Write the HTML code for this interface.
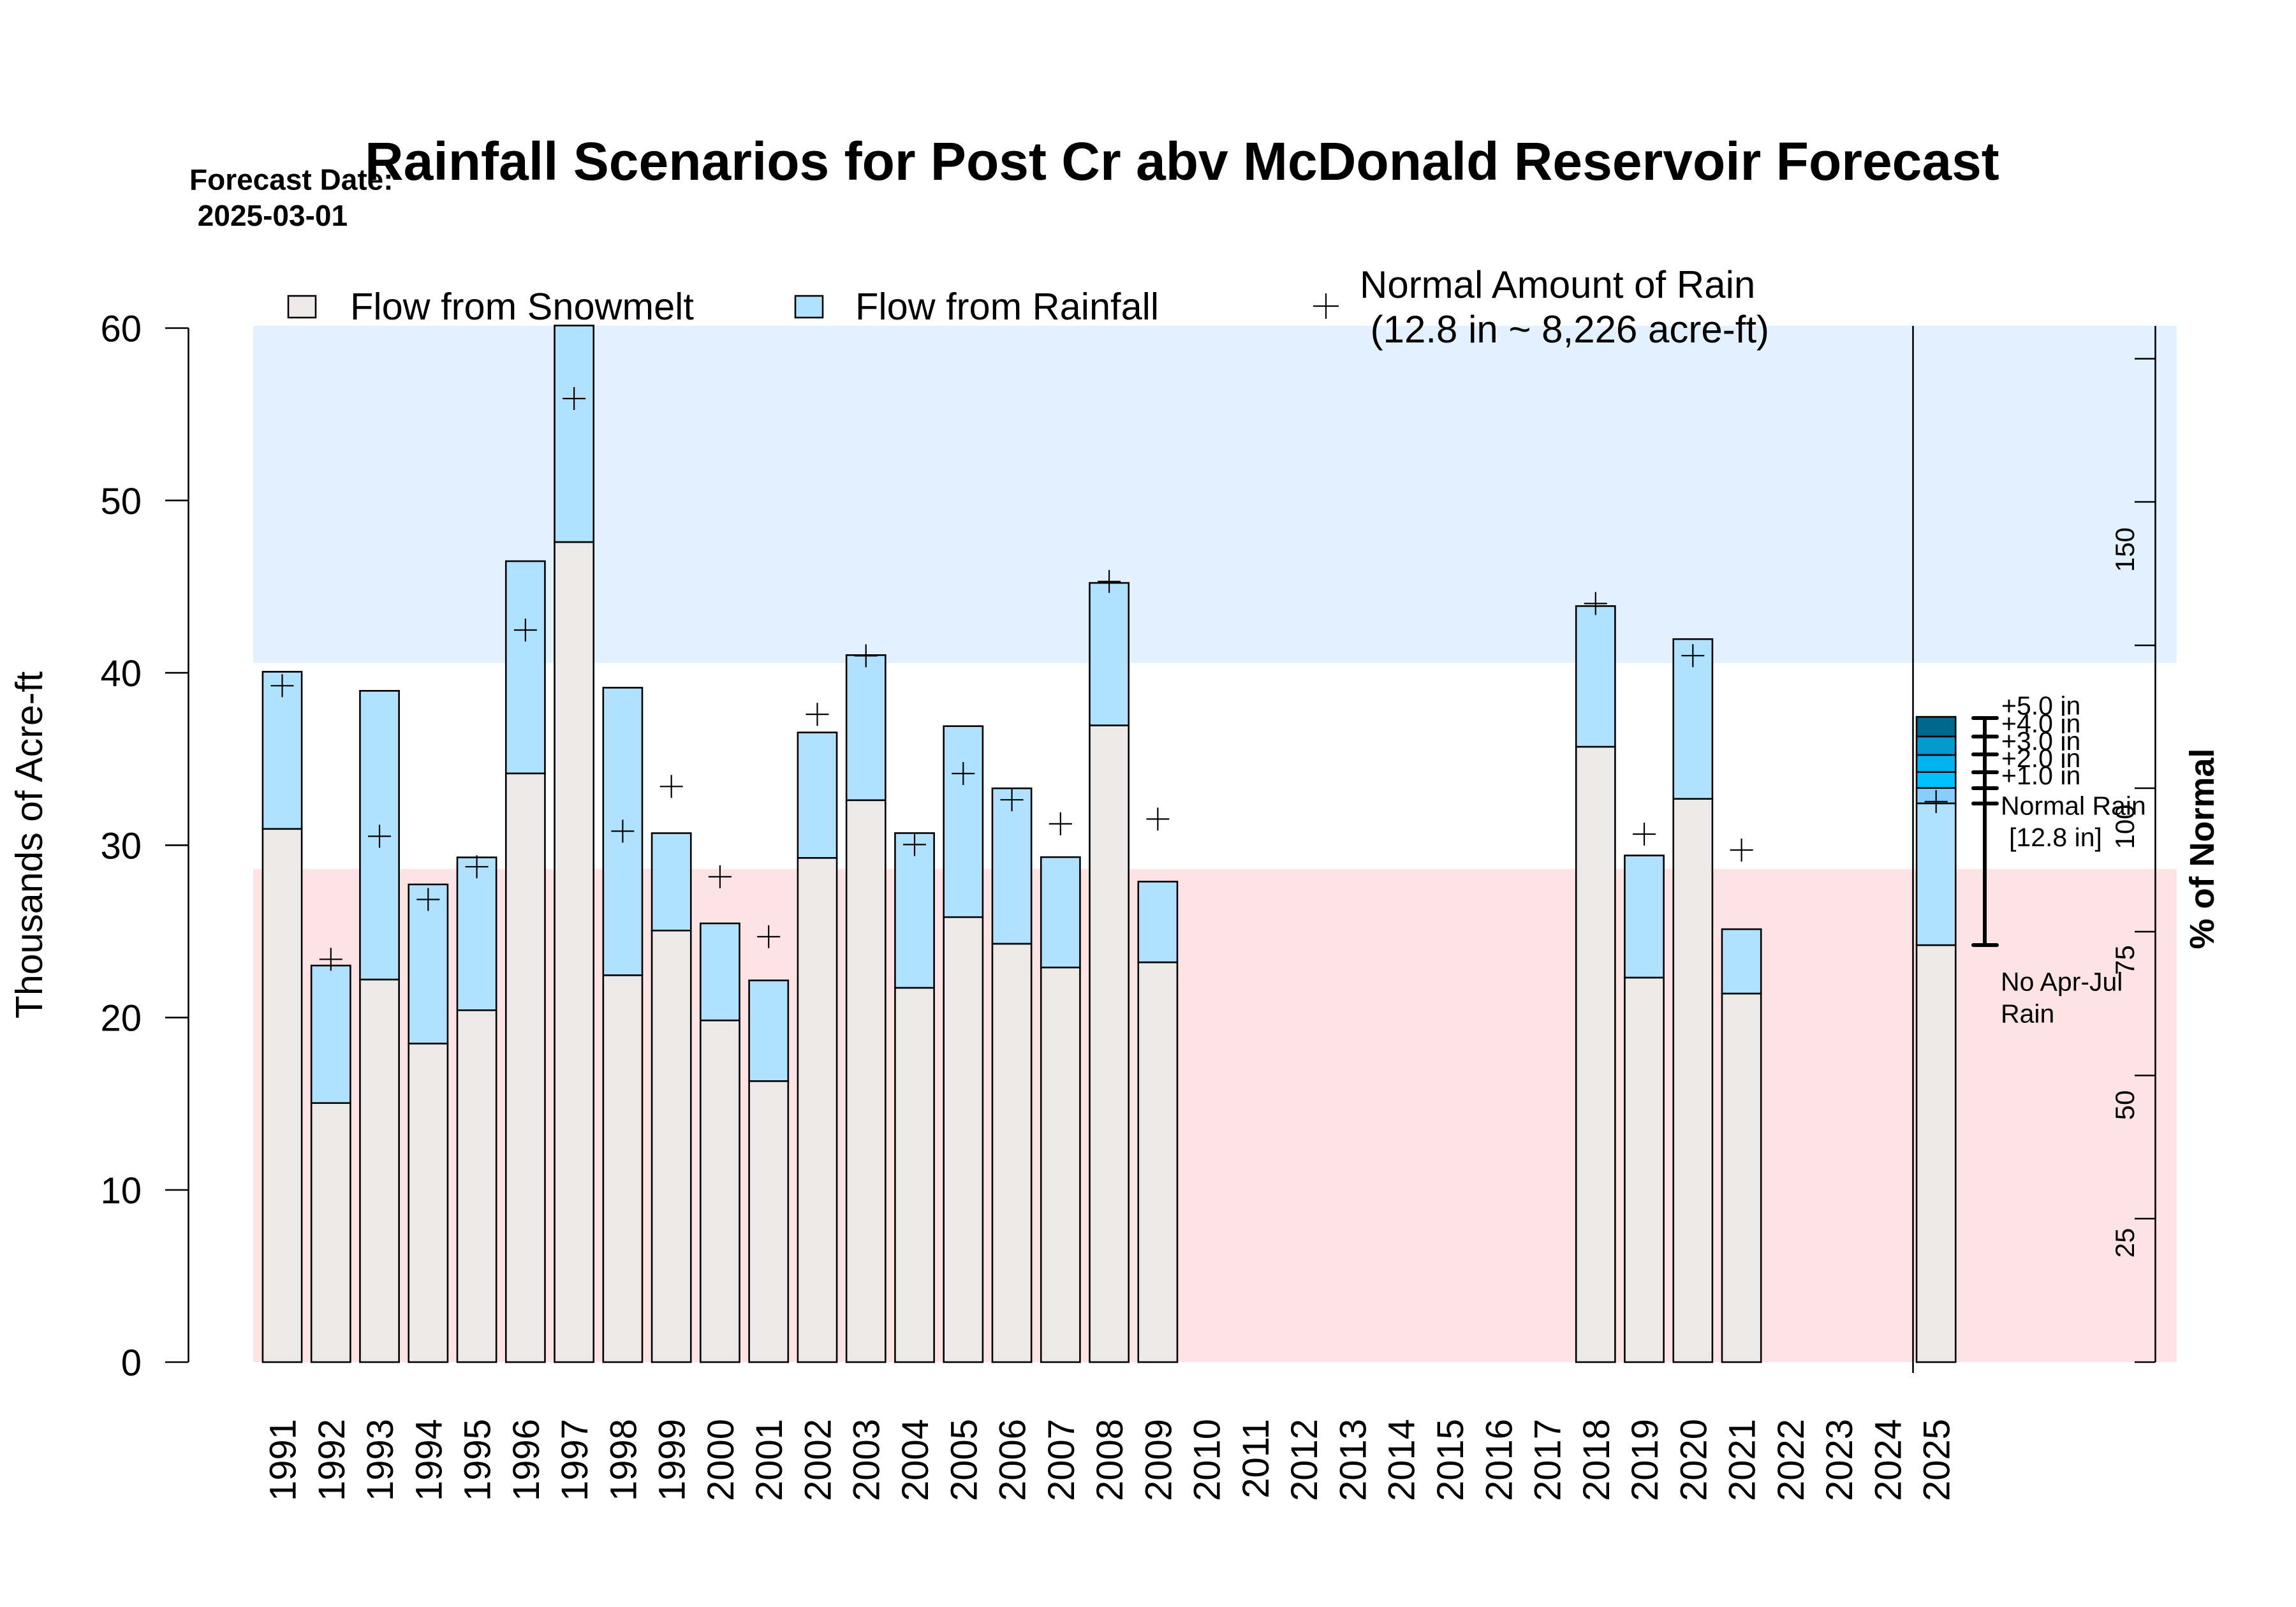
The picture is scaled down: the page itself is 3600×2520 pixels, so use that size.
<!DOCTYPE html>
<html>
<head>
<meta charset="utf-8">
<style>
  html,body{margin:0;padding:0;background:#fff;}
  svg{display:block;}
  text{font-family:"Liberation Sans",Arial,Helvetica,sans-serif;fill:#000;}
</style>
</head>
<body>
<svg width="3600" height="2520" viewBox="0 0 3600 2520" xmlns="http://www.w3.org/2000/svg">
  <rect x="0" y="0" width="3600" height="2520" fill="#ffffff"/>

  <!-- background bands -->
  <rect x="397" y="511" width="3016" height="528.5" fill="#E3F1FE"/>
  <rect x="397" y="1362.7" width="3016" height="773.3" fill="#FEE3E5"/>

  <!-- Title & forecast date -->
  <text x="297" y="297.5" font-size="46" font-weight="bold">Forecast Date:</text>
  <text x="297" y="354" font-size="46" font-weight="bold" xml:space="preserve"> 2025-03-01</text>
  <text x="572" y="282" font-size="84" font-weight="bold">Rainfall Scenarios for Post Cr abv McDonald Reservoir Forecast</text>

  <!-- Legend -->
  <rect x="452" y="464" width="43" height="34" fill="#EEE9E9" stroke="#000" stroke-width="2.6"/>
  <text x="549" y="501" font-size="59.5">Flow from Snowmelt</text>
  <rect x="1247" y="464" width="43" height="34" fill="#B0E2FF" stroke="#000" stroke-width="2.6"/>
  <text x="1341" y="501" font-size="59.5">Flow from Rainfall</text>
  <g stroke="#000" stroke-width="2.2">
    <line x1="2059" y1="480" x2="2099" y2="480"/>
    <line x1="2079" y1="460" x2="2079" y2="500"/>
  </g>
  <text x="2132" y="467" font-size="60">Normal Amount of Rain</text>
  <text x="2132" y="537" font-size="60" xml:space="preserve"> (12.8 in ~ 8,226 acre-ft)</text>

  <!-- Left axis -->
  <g stroke="#000" stroke-width="2.6" fill="none">
    <line x1="295.5" y1="514.5" x2="295.5" y2="2136"/>
    <line x1="259" y1="514.5" x2="295.5" y2="514.5"/>
    <line x1="259" y1="784.8" x2="295.5" y2="784.8"/>
    <line x1="259" y1="1055.1" x2="295.5" y2="1055.1"/>
    <line x1="259" y1="1325.4" x2="295.5" y2="1325.4"/>
    <line x1="259" y1="1595.7" x2="295.5" y2="1595.7"/>
    <line x1="259" y1="1866" x2="295.5" y2="1866"/>
    <line x1="259" y1="2136" x2="295.5" y2="2136"/>
  </g>
  <g font-size="58" text-anchor="end">
    <text x="222" y="535.5">60</text>
    <text x="222" y="805.8">50</text>
    <text x="222" y="1076.1">40</text>
    <text x="222" y="1346.4">30</text>
    <text x="222" y="1616.7">20</text>
    <text x="222" y="1887">10</text>
    <text x="222" y="2157">0</text>
  </g>
  <text transform="translate(66,1325) rotate(-90)" font-size="59" text-anchor="middle">Thousands of Acre-ft</text>

  <!-- Right axis -->
  <g stroke="#000" stroke-width="2.6" fill="none">
    <line x1="3379.5" y1="511" x2="3379.5" y2="2136"/>
    <line x1="3347" y1="562.5" x2="3379.5" y2="562.5"/>
    <line x1="3347" y1="787" x2="3379.5" y2="787"/>
    <line x1="3347" y1="1012" x2="3379.5" y2="1012"/>
    <line x1="3347" y1="1236" x2="3379.5" y2="1236"/>
    <line x1="3347" y1="1461" x2="3379.5" y2="1461"/>
    <line x1="3347" y1="1686.5" x2="3379.5" y2="1686.5"/>
    <line x1="3347" y1="1911" x2="3379.5" y2="1911"/>
    <line x1="3347" y1="2136" x2="3379.5" y2="2136"/>
  </g>
  <g font-size="42" text-anchor="middle">
    <text transform="translate(3346,862) rotate(-90)">150</text>
    <text transform="translate(3346,1296.5) rotate(-90)">100</text>
    <text transform="translate(3346,1505.5) rotate(-90)">75</text>
    <text transform="translate(3346,1733) rotate(-90)">50</text>
    <text transform="translate(3346,1949) rotate(-90)">25</text>
  </g>
  <text transform="translate(3471,1331) rotate(-90)" font-size="54" font-weight="bold" text-anchor="middle">% of Normal</text>

  <!-- separator line -->
  <line x1="2999.5" y1="511" x2="2999.5" y2="2153" stroke="#000" stroke-width="2.6"/>

  <!-- Bars: snow (bottom) + rain (top) -->
  <g stroke="#000" stroke-width="2.6">
    <rect x="411.9" y="1299.8" width="61.2" height="836.2" fill="#EEE9E9"/>
    <rect x="411.9" y="1053.4" width="61.2" height="246.4" fill="#B0E2FF"/>
    <rect x="488.17" y="1729.7" width="61.2" height="406.3" fill="#EEE9E9"/>
    <rect x="488.17" y="1514.1" width="61.2" height="215.6" fill="#B0E2FF"/>
    <rect x="564.44" y="1536" width="61.2" height="600" fill="#EEE9E9"/>
    <rect x="564.44" y="1083.3" width="61.2" height="452.7" fill="#B0E2FF"/>
    <rect x="640.71" y="1636.4" width="61.2" height="499.6" fill="#EEE9E9"/>
    <rect x="640.71" y="1386.9" width="61.2" height="249.5" fill="#B0E2FF"/>
    <rect x="716.98" y="1584.2" width="61.2" height="551.8" fill="#EEE9E9"/>
    <rect x="716.98" y="1344.5" width="61.2" height="239.7" fill="#B0E2FF"/>
    <rect x="793.25" y="1212.8" width="61.2" height="923.2" fill="#EEE9E9"/>
    <rect x="793.25" y="880" width="61.2" height="332.8" fill="#B0E2FF"/>
    <rect x="869.52" y="850" width="61.2" height="1286" fill="#EEE9E9"/>
    <rect x="869.52" y="510.5" width="61.2" height="339.5" fill="#B0E2FF"/>
    <rect x="945.79" y="1529.3" width="61.2" height="606.7" fill="#EEE9E9"/>
    <rect x="945.79" y="1078.4" width="61.2" height="450.9" fill="#B0E2FF"/>
    <rect x="1022.06" y="1459.2" width="61.2" height="676.8" fill="#EEE9E9"/>
    <rect x="1022.06" y="1306.5" width="61.2" height="152.7" fill="#B0E2FF"/>
    <rect x="1098.33" y="1600.1" width="61.2" height="535.9" fill="#EEE9E9"/>
    <rect x="1098.33" y="1448" width="61.2" height="152.1" fill="#B0E2FF"/>
    <rect x="1174.6" y="1695.3" width="61.2" height="440.7" fill="#EEE9E9"/>
    <rect x="1174.6" y="1537.4" width="61.2" height="157.9" fill="#B0E2FF"/>
    <rect x="1250.87" y="1345.3" width="61.2" height="790.7" fill="#EEE9E9"/>
    <rect x="1250.87" y="1148.6" width="61.2" height="196.7" fill="#B0E2FF"/>
    <rect x="1327.14" y="1254.8" width="61.2" height="881.2" fill="#EEE9E9"/>
    <rect x="1327.14" y="1027.3" width="61.2" height="227.5" fill="#B0E2FF"/>
    <rect x="1403.41" y="1549" width="61.2" height="587" fill="#EEE9E9"/>
    <rect x="1403.41" y="1306.4" width="61.2" height="242.6" fill="#B0E2FF"/>
    <rect x="1479.68" y="1438.2" width="61.2" height="697.8" fill="#EEE9E9"/>
    <rect x="1479.68" y="1138.7" width="61.2" height="299.5" fill="#B0E2FF"/>
    <rect x="1555.95" y="1479.9" width="61.2" height="656.1" fill="#EEE9E9"/>
    <rect x="1555.95" y="1236.2" width="61.2" height="243.7" fill="#B0E2FF"/>
    <rect x="1632.22" y="1517.1" width="61.2" height="618.9" fill="#EEE9E9"/>
    <rect x="1632.22" y="1344.1" width="61.2" height="173" fill="#B0E2FF"/>
    <rect x="1708.49" y="1137.5" width="61.2" height="998.5" fill="#EEE9E9"/>
    <rect x="1708.49" y="914.1" width="61.2" height="223.4" fill="#B0E2FF"/>
    <rect x="1784.76" y="1509" width="61.2" height="627" fill="#EEE9E9"/>
    <rect x="1784.76" y="1382.5" width="61.2" height="126.5" fill="#B0E2FF"/>
    <rect x="2471.19" y="1171" width="61.2" height="965" fill="#EEE9E9"/>
    <rect x="2471.19" y="950.4" width="61.2" height="220.6" fill="#B0E2FF"/>
    <rect x="2547.46" y="1533" width="61.2" height="603" fill="#EEE9E9"/>
    <rect x="2547.46" y="1341.5" width="61.2" height="191.5" fill="#B0E2FF"/>
    <rect x="2623.73" y="1252.7" width="61.2" height="883.3" fill="#EEE9E9"/>
    <rect x="2623.73" y="1002.2" width="61.2" height="250.5" fill="#B0E2FF"/>
    <rect x="2700" y="1558" width="61.2" height="578" fill="#EEE9E9"/>
    <rect x="2700" y="1457.1" width="61.2" height="100.9" fill="#B0E2FF"/>
    <rect x="3005.08" y="1482.1" width="61.2" height="653.9" fill="#EEE9E9"/>
    <rect x="3005.08" y="1259.8" width="61.2" height="222.3" fill="#B0E2FF"/>
    <rect x="3005.08" y="1235.7" width="61.2" height="24.1" fill="#87CEFA"/>
    <rect x="3005.08" y="1210.7" width="61.2" height="25" fill="#00BFFF"/>
    <rect x="3005.08" y="1183.9" width="61.2" height="26.8" fill="#00B2EE"/>
    <rect x="3005.08" y="1154.9" width="61.2" height="29" fill="#009ACD"/>
    <rect x="3005.08" y="1124.1" width="61.2" height="30.8" fill="#00688B"/>
  </g>

  <!-- Normal rain plus markers -->
  <g stroke="#000" stroke-width="2.2" fill="none">
    <path d="M424.5 1075.3h36M442.5 1057.3v36"/>
    <path d="M500.77 1504.3h36M518.77 1486.3v36"/>
    <path d="M577.04 1311.4h36M595.04 1293.4v36"/>
    <path d="M653.31 1410.5h36M671.31 1392.5v36"/>
    <path d="M729.58 1359.2h36M747.58 1341.2v36"/>
    <path d="M805.85 988h36M823.85 970v36"/>
    <path d="M882.12 625h36M900.12 607v36"/>
    <path d="M958.39 1303.4h36M976.39 1285.4v36"/>
    <path d="M1034.66 1233.3h36M1052.66 1215.3v36"/>
    <path d="M1110.93 1374.9h36M1128.93 1356.9v36"/>
    <path d="M1187.2 1468.9h36M1205.2 1450.9v36"/>
    <path d="M1263.47 1120.1h36M1281.47 1102.1v36"/>
    <path d="M1339.74 1028.4h36M1357.74 1010.4v36"/>
    <path d="M1416.01 1324.4h36M1434.01 1306.4v36"/>
    <path d="M1492.28 1213h36M1510.28 1195v36"/>
    <path d="M1568.55 1254.2h36M1586.55 1236.2v36"/>
    <path d="M1644.82 1291.9h36M1662.82 1273.9v36"/>
    <path d="M1721.09 911.8h36M1739.09 893.8v36"/>
    <path d="M1797.36 1284.4h36M1815.36 1266.4v36"/>
    <path d="M2483.79 946.4h36M2501.79 928.4v36"/>
    <path d="M2560.06 1308h36M2578.06 1290v36"/>
    <path d="M2636.33 1028.1h36M2654.33 1010.1v36"/>
    <path d="M2712.6 1333h36M2730.6 1315v36"/>
    <path d="M3017.68 1257h36M3035.68 1239v36"/>
  </g>

  <!-- error bar for scenarios -->
  <g stroke="#000" stroke-width="6" stroke-linecap="round" fill="none">
    <line x1="3112" y1="1126" x2="3112" y2="1482"/>
    <line x1="3094" y1="1126" x2="3131" y2="1126"/>
    <line x1="3094" y1="1155" x2="3131" y2="1155"/>
    <line x1="3094" y1="1183" x2="3131" y2="1183"/>
    <line x1="3094" y1="1211" x2="3131" y2="1211"/>
    <line x1="3094" y1="1236" x2="3131" y2="1236"/>
    <line x1="3094" y1="1260" x2="3131" y2="1260"/>
    <line x1="3094" y1="1482" x2="3131" y2="1482"/>
  </g>
  <g font-size="41">
    <text x="3138" y="1120.5">+5.0 in</text>
    <text x="3138" y="1148.7">+4.0 in</text>
    <text x="3138" y="1176">+3.0 in</text>
    <text x="3138" y="1203">+2.0 in</text>
    <text x="3138" y="1230">+1.0 in</text>
    <text x="3137" y="1277.7">Normal Rain</text>
    <text x="3150" y="1326.8">[12.8 in]</text>
    <text x="3137" y="1553.6">No Apr-Jul</text>
    <text x="3137" y="1603.6">Rain</text>
  </g>

  <!-- Year labels -->
  <g font-size="58" text-anchor="end">
    <text transform="translate(463.5,2225) rotate(-90)">1991</text>
    <text transform="translate(539.77,2225) rotate(-90)">1992</text>
    <text transform="translate(616.04,2225) rotate(-90)">1993</text>
    <text transform="translate(692.31,2225) rotate(-90)">1994</text>
    <text transform="translate(768.58,2225) rotate(-90)">1995</text>
    <text transform="translate(844.85,2225) rotate(-90)">1996</text>
    <text transform="translate(921.12,2225) rotate(-90)">1997</text>
    <text transform="translate(997.39,2225) rotate(-90)">1998</text>
    <text transform="translate(1073.66,2225) rotate(-90)">1999</text>
    <text transform="translate(1149.93,2225) rotate(-90)">2000</text>
    <text transform="translate(1226.2,2225) rotate(-90)">2001</text>
    <text transform="translate(1302.47,2225) rotate(-90)">2002</text>
    <text transform="translate(1378.74,2225) rotate(-90)">2003</text>
    <text transform="translate(1455.01,2225) rotate(-90)">2004</text>
    <text transform="translate(1531.28,2225) rotate(-90)">2005</text>
    <text transform="translate(1607.55,2225) rotate(-90)">2006</text>
    <text transform="translate(1683.82,2225) rotate(-90)">2007</text>
    <text transform="translate(1760.09,2225) rotate(-90)">2008</text>
    <text transform="translate(1836.36,2225) rotate(-90)">2009</text>
    <text transform="translate(1912.63,2225) rotate(-90)">2010</text>
    <text transform="translate(1988.9,2225) rotate(-90)">2011</text>
    <text transform="translate(2065.17,2225) rotate(-90)">2012</text>
    <text transform="translate(2141.44,2225) rotate(-90)">2013</text>
    <text transform="translate(2217.71,2225) rotate(-90)">2014</text>
    <text transform="translate(2293.98,2225) rotate(-90)">2015</text>
    <text transform="translate(2370.25,2225) rotate(-90)">2016</text>
    <text transform="translate(2446.52,2225) rotate(-90)">2017</text>
    <text transform="translate(2522.79,2225) rotate(-90)">2018</text>
    <text transform="translate(2599.06,2225) rotate(-90)">2019</text>
    <text transform="translate(2675.33,2225) rotate(-90)">2020</text>
    <text transform="translate(2751.6,2225) rotate(-90)">2021</text>
    <text transform="translate(2827.87,2225) rotate(-90)">2022</text>
    <text transform="translate(2904.14,2225) rotate(-90)">2023</text>
    <text transform="translate(2980.41,2225) rotate(-90)">2024</text>
    <text transform="translate(3056.68,2225) rotate(-90)">2025</text>
  </g>
</svg>
</body>
</html>
